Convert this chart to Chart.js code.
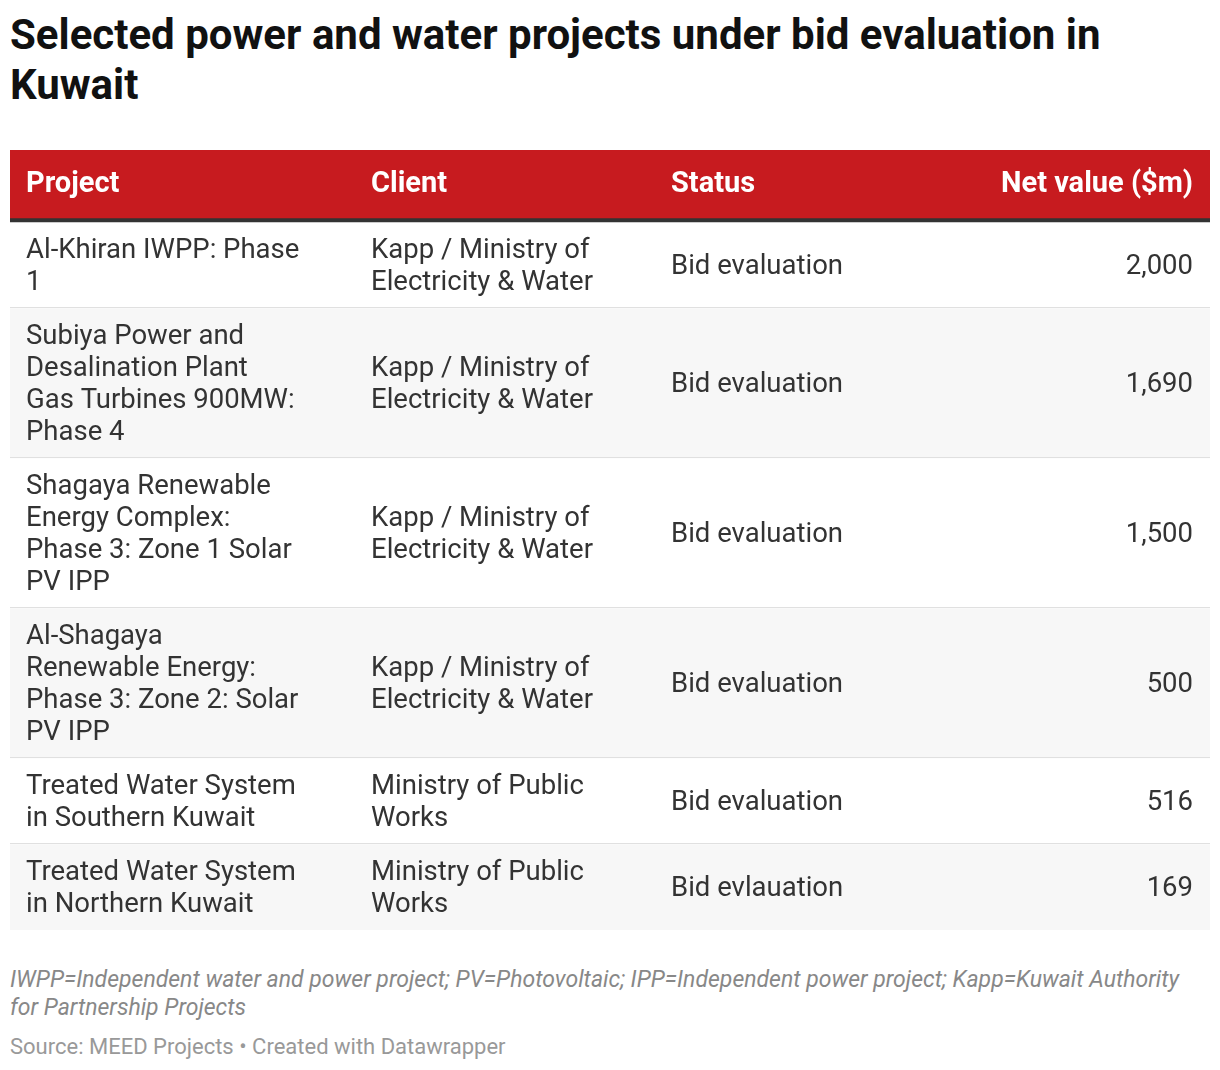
<!DOCTYPE html>
<html>
<head>
<meta charset="utf-8">
<script src="https://cdn.jsdelivr.net/npm/chart.js@4/dist/chart.umd.min.js"></script>
<style>
  body { margin: 0; background: #fff; font-family: Roboto, sans-serif; width: 1220px; height: 1070px; position: relative; }
  h1 { position: absolute; left: 10px; top: 10px; margin: 0; font-size: 42px; line-height: 50px; font-weight: 700; color: #111; width: 1200px; }
  #wrap { position: absolute; left: 10px; top: 150px; width: 1200px; height: 780px; }
  .note { position: absolute; left: 10px; top: 966px; font-size: 23px; line-height: 28px; font-style: italic; color: #888; width: 1200px; }
  .src { position: absolute; left: 10px; top: 1034px; font-size: 22px; color: #999; }
</style>
</head>
<body>
<h1>Selected power and water projects under bid evaluation in Kuwait</h1>
<div id="wrap"><canvas id="c" width="1200" height="780"></canvas></div>
<div class="note">IWPP=Independent water and power project; PV=Photovoltaic; IPP=Independent power project; Kapp=Kuwait Authority for Partnership Projects</div>
<div class="src">Source: MEED Projects • Created with Datawrapper</div>
<script>
var headers = ['Project', 'Client', 'Status', 'Net value ($m)'];
var projects = [
  ['Al-Khiran IWPP: Phase', '1'],
  ['Subiya Power and', 'Desalination Plant', 'Gas Turbines 900MW:', 'Phase 4'],
  ['Shagaya Renewable', 'Energy Complex:', 'Phase 3: Zone 1 Solar', 'PV IPP'],
  ['Al-Shagaya', 'Renewable Energy:', 'Phase 3: Zone 2: Solar', 'PV IPP'],
  ['Treated Water System', 'in Southern Kuwait'],
  ['Treated Water System', 'in Northern Kuwait']
];
var clients = [
  ['Kapp / Ministry of', 'Electricity & Water'],
  ['Kapp / Ministry of', 'Electricity & Water'],
  ['Kapp / Ministry of', 'Electricity & Water'],
  ['Kapp / Ministry of', 'Electricity & Water'],
  ['Ministry of Public', 'Works'],
  ['Ministry of Public', 'Works']
];
var statuses = ['Bid evaluation', 'Bid evaluation', 'Bid evaluation', 'Bid evaluation', 'Bid evaluation', 'Bid evlauation'];
var netValues = [2000, 1690, 1500, 500, 516, 169];

var HEAD = 68, RULE = 4, LINE = 32, PAD = 22;
var ranges = [], y = HEAD + RULE;
projects.forEach(function (p, i) {
  var n = Math.max(p.length, clients[i].length);
  ranges.push([y, y + n * LINE + PAD]);
  y += n * LINE + PAD;
});

var datasets = [
  { data: [[0, HEAD]], backgroundColor: '#c71b1f' },
  { data: [[HEAD, HEAD + RULE]], backgroundColor: '#333333' }
];
ranges.forEach(function (r, i) {
  datasets.push({ data: [r], backgroundColor: i % 2 ? '#f7f7f7' : '#ffffff' });
});
datasets.forEach(function (d) { d.grouped = false; d.barPercentage = 1; d.categoryPercentage = 1; d.borderWidth = 0; });

var cols = [16, 361, 661];
var rightCol = 1183;

var tablePlugin = {
  id: 'tableText',
  afterDatasetsDraw: function (chart) {
    var ctx = chart.ctx, ys = chart.scales.y;
    ctx.save();
    ctx.textBaseline = 'middle';
    ctx.font = 'bold 29px Roboto';
    ctx.fillStyle = '#ffffff';
    var hy = (ys.getPixelForValue(0) + ys.getPixelForValue(HEAD)) / 2 + 1;
    ctx.textAlign = 'left';
    for (var k = 0; k < 3; k++) ctx.fillText(headers[k], cols[k], hy);
    ctx.textAlign = 'right';
    ctx.fillText(headers[3], rightCol, hy);

    ctx.font = '27.5px Roboto';
    ranges.forEach(function (r, i) {
      var top = ys.getPixelForValue(r[0]), bot = ys.getPixelForValue(r[1]);
      var mid = (top + bot) / 2 + 2;
      if (i > 0) {
        ctx.fillStyle = '#e0e0e0';
        ctx.fillRect(0, Math.round(top) - 1, chart.width, 1);
      }
      ctx.fillStyle = '#333333';
      ctx.textAlign = 'left';
      [projects[i], clients[i]].forEach(function (lines, c) {
        var start = mid - (lines.length - 1) * LINE / 2;
        lines.forEach(function (t, j) { ctx.fillText(t, cols[c], start + j * LINE); });
      });
      ctx.fillText(statuses[i], cols[2], mid);
      ctx.textAlign = 'right';
      ctx.fillText(netValues[i].toLocaleString('en-US'), rightCol, mid);
    });
    ctx.restore();
  }
};

new Chart(document.getElementById('c'), {
  type: 'bar',
  data: { labels: ['table'], datasets: datasets },
  options: {
    responsive: false,
    animation: false,
    layout: { padding: 0 },
    plugins: { legend: { display: false }, tooltip: { enabled: false } },
    scales: {
      x: { display: false, offset: true },
      y: { display: false, min: 0, max: y, reverse: true }
    }
  },
  plugins: [tablePlugin]
});
</script>
</body>
</html>
